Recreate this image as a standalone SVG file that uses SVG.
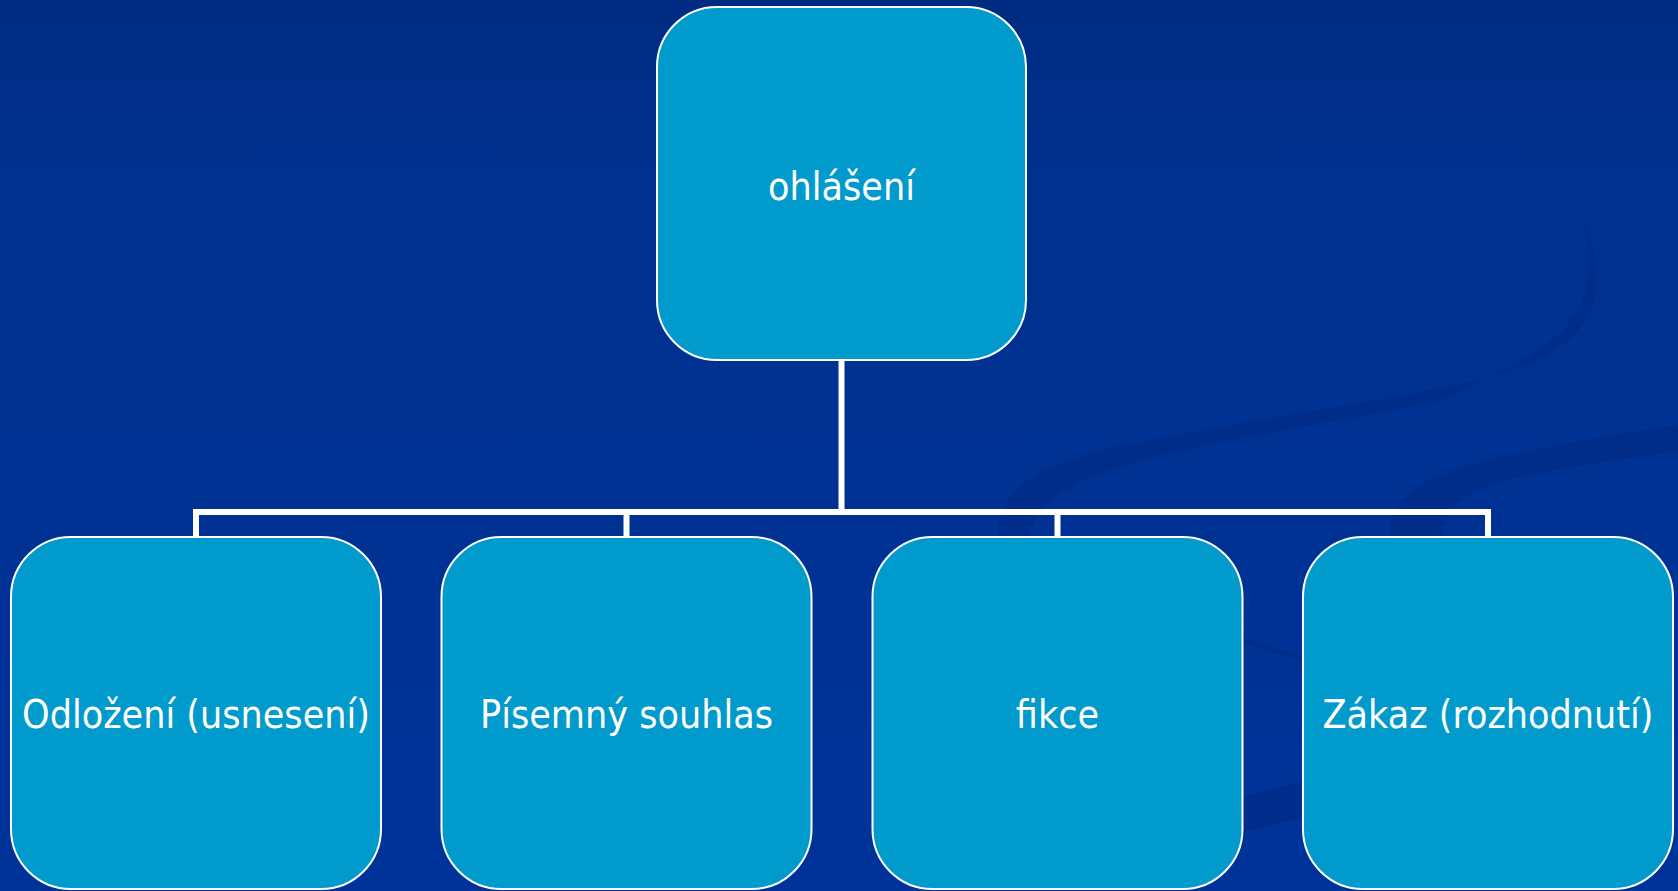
<svg xmlns="http://www.w3.org/2000/svg" width="1678" height="891" viewBox="0 0 1678 891">
  <defs>
    <linearGradient id="bg" x1="0" y1="0" x2="0" y2="1">
      <stop offset="0" stop-color="#002b82"/>
      <stop offset="0.2" stop-color="#00318f"/>
      <stop offset="1" stop-color="#003399"/>
    </linearGradient>
    <style>
      .node rect { fill: #009acc; stroke: #ffffff; stroke-width: 2; }
      .node text { fill: #ffffff; font-family: "DejaVu Sans Condensed", "DejaVu Sans", sans-serif; font-size: 39px; text-anchor: middle; }
      .wire { fill: none; stroke: #ffffff; stroke-width: 6; }
      .swoosh { fill: #002c88; stroke: none; }
    </style>
  </defs>

  <!-- backdrop with faint ribbon shapes -->
  <rect x="0" y="0" width="1678" height="891" fill="url(#bg)"/>
  <g id="decor" opacity="0.8">
    <path class="swoosh" d="M998,540 C995,490 1040,465 1110,448 C1200,428 1330,410 1460,384 C1540,368 1590,340 1596,290 C1598,260 1592,235 1581,220
                            C1588,240 1590,265 1586,290 C1575,335 1530,360 1440,400 C1330,425 1200,440 1110,470 C1060,488 1030,510 1030,540 Z"/>
    <path class="swoosh" d="M1390,540 C1385,500 1420,478 1480,462 C1550,445 1620,433 1678,425 L1678,452 C1610,460 1545,470 1500,482 C1460,494 1440,512 1443,540 Z"/>
    <path class="swoosh" d="M1243,638 L1302,656 L1302,661 L1243,643 Z"/>
    <path class="swoosh" d="M1243,797 C1262,792 1282,786 1302,782 L1302,818 C1282,823 1262,828 1243,833 Z"/>
  </g>

  <!-- connectors -->
  <g id="connectors">
    <path class="wire" d="M841.5,361 V512 M196,512 H1488 M196,509 V537 M626.5,512 V537 M1057.5,512 V537 M1488,509 V537"/>
  </g>

  <g id="node-ohlaseni" class="node">
    <rect x="657" y="7" width="369" height="353" rx="60" ry="60"/>
    <text x="841.5" y="200">ohlášení</text>
  </g>
  <g id="node-odlozeni" class="node">
    <rect x="11" y="537" width="370" height="352" rx="60" ry="60"/>
    <text x="196" y="728">Odložení (usnesení)</text>
  </g>
  <g id="node-souhlas" class="node">
    <rect x="441.5" y="537" width="370" height="352" rx="60" ry="60"/>
    <text x="626.5" y="728">Písemný souhlas</text>
  </g>
  <g id="node-fikce" class="node">
    <rect x="872.5" y="537" width="370" height="352" rx="60" ry="60"/>
    <text x="1057.5" y="728">fikce</text>
  </g>
  <g id="node-zakaz" class="node">
    <rect x="1303" y="537" width="370" height="352" rx="60" ry="60"/>
    <text x="1488" y="728">Zákaz (rozhodnutí)</text>
  </g>
</svg>
